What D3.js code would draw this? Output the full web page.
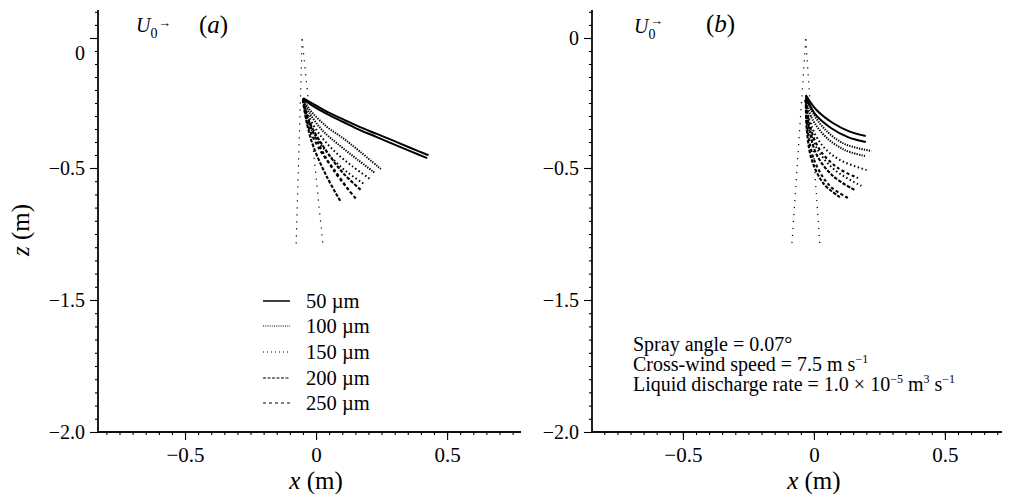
<!DOCTYPE html>
<html><head><meta charset="utf-8">
<script src="https://cdn.jsdelivr.net/npm/d3@7"></script>
<style>
html,body{margin:0;padding:0;background:#fff;}
svg{display:block;}
text{font-family:"Liberation Serif","Times New Roman","DejaVu Serif",serif !important;fill:#000;}
</style></head><body>
<svg id="c" width="1010" height="494"></svg>
<script>
// ---------- data ----------
const sizes = ["50 µm","100 µm","150 µm","200 µm","250 µm"];
const yTickValues = [0, -0.5, -1.5, -2.0];
const yTickLabels = ["0", "−0.5", "−1.5", "−2.0"];
const xTickValues = [-0.5, 0, 0.5];
const xTickLabels = ["−0.5", "0", "0.5"];

// panel (a) trajectories [x, z] in m
const a50 = [
  [[-0.048,-0.232],[-0.010,-0.254],[0.041,-0.283],[0.104,-0.313],[0.168,-0.343],[0.232,-0.369],[0.295,-0.395],[0.359,-0.422],[0.429,-0.451]],
  [[-0.050,-0.235],[-0.011,-0.262],[0.041,-0.292],[0.104,-0.323],[0.168,-0.354],[0.232,-0.381],[0.295,-0.408],[0.359,-0.435],[0.424,-0.462]]
];
const a100 = [
  [[-0.050,-0.231],[-0.023,-0.277],[0.041,-0.341],[0.104,-0.386],[0.168,-0.437],[0.247,-0.507]],
  [[-0.050,-0.235],[-0.027,-0.285],[0.023,-0.354],[0.092,-0.415],[0.160,-0.469],[0.225,-0.538]]
];
const a150 = [
  [[-0.050,-0.238],[-0.031,-0.296],[0.015,-0.373],[0.073,-0.438],[0.137,-0.492],[0.206,-0.583]],
  [[-0.050,-0.242],[-0.034,-0.308],[0.004,-0.388],[0.057,-0.458],[0.118,-0.530],[0.183,-0.621]]
];
const a200 = [
  [[-0.050,-0.238],[-0.023,-0.328],[0.041,-0.437],[0.104,-0.540],[0.174,-0.672]],
  [[-0.050,-0.238],[-0.035,-0.328],[-0.010,-0.418],[0.041,-0.566],[0.092,-0.748]]
];
const a250 = [
  [[-0.050,-0.238],[-0.035,-0.303],[0.015,-0.418],[0.066,-0.515],[0.153,-0.735]],
  [[-0.050,-0.238],[-0.031,-0.335],[0.015,-0.431],[0.073,-0.523],[0.130,-0.682]]
];
const aCone = [
  [[-0.053,-0.005],[-0.076,-1.083]],
  [[-0.053,-0.005],[0.027,-1.098]]
];

// panel (b) trajectories
const b50 = [
  [[-0.031,-0.219],[0.010,-0.277],[0.074,-0.328],[0.137,-0.360],[0.198,-0.377]],
  [[-0.031,-0.223],[0.004,-0.292],[0.065,-0.346],[0.130,-0.381],[0.198,-0.400]]
];
const b100 = [
  [[-0.031,-0.227],[0.000,-0.296],[0.053,-0.362],[0.118,-0.408],[0.220,-0.435]],
  [[-0.031,-0.231],[-0.008,-0.308],[0.046,-0.381],[0.118,-0.431],[0.195,-0.454]]
];
const b150 = [
  [[-0.031,-0.235],[-0.015,-0.323],[0.031,-0.412],[0.099,-0.469],[0.201,-0.515]],
  [[-0.031,-0.238],[-0.019,-0.335],[0.015,-0.431],[0.080,-0.515],[0.181,-0.636]]
];
const b200 = [
  [[-0.031,-0.238],[-0.019,-0.346],[0.011,-0.450],[0.073,-0.561],[0.156,-0.667]],
  [[-0.031,-0.238],[-0.027,-0.354],[-0.008,-0.469],[0.038,-0.621],[0.099,-0.720]]
];
const b250 = [
  [[-0.031,-0.238],[-0.015,-0.338],[0.023,-0.431],[0.092,-0.500],[0.168,-0.576]],
  [[-0.031,-0.238],[-0.023,-0.362],[0.004,-0.477],[0.061,-0.636],[0.130,-0.727]]
];
const bCone = [
  [[-0.031,-0.005],[-0.084,-1.076]],
  [[-0.031,-0.005],[0.023,-1.091]]
];

const annotation = ["Spray angle = 0.07°", "Cross-wind speed = 7.5 m s", "Liquid discharge rate = 1.0 × 10"];

// ---------- styles ----------
const styles = [
  {dash:null, w:2.0},
  {dash:"1.3,1.2", w:2.0},
  {dash:"1.5,2.5", w:2.0},
  {dash:"3.5,1.5", w:2.1},
  {dash:"3,2.5", w:2.1}
];
const legendDash = [null, "1,1.2", "1,3", "3,1.5", "3,3"];

const svg = d3.select("#c");

// non-uniform (as printed) vertical scale
const y = d3.scaleLinear().domain([0.107, 0, -0.5, -1.5, -2.0]).range([10, 38, 168, 300, 432]);
const yMinor = [].concat(
  d3.range(0.1, -0.5, -0.05),
  d3.range(-0.5, -1.5, -0.1),
  d3.range(-1.5, -2.0, -0.05)
).map(v => +v.toFixed(3));

function panel(opts){
  const x = d3.scaleLinear().domain(opts.xdom).range(opts.xr);
  const g = svg.append("g");
  const x0 = opts.xr[0];
  // y axis
  const ya = g.append("g").attr("transform", `translate(${x0},0)`);
  ya.call(d3.axisLeft(y).tickValues(yMinor).tickSize(3).tickFormat(""));
  ya.append("g").call(d3.axisLeft(y).tickValues(yTickValues).tickSize(8).tickPadding(5)
      .tickFormat((d,i) => yTickLabels[i]));
  ya.selectAll("path.domain").attr("d", `M0,${y.range()[0]}V${y.range()[4]}`).attr("stroke","#000").attr("stroke-width",1.3);
  ya.selectAll(".tick line").attr("stroke","#000").attr("stroke-width",1.1);
  ya.selectAll(".tick text").attr("font-size",20);
  if (opts.zeroDy) ya.selectAll(".tick text").filter(d => d === 0).attr("dy", opts.zeroDy);
  // x axis
  const xa = g.append("g").attr("transform", `translate(0,${y(-2.0)})`);
  const xMinor = d3.range(-0.8, opts.xdom[1], 0.05).map(v => +v.toFixed(3));
  xa.call(d3.axisBottom(x).tickValues(xMinor).tickSize(3).tickFormat(""));
  xa.append("g").call(d3.axisBottom(x).tickValues(xTickValues).tickSize(8).tickPadding(7)
      .tickFormat((d,i) => xTickLabels[i]));
  xa.selectAll("path.domain").attr("d", `M${opts.xr[0]},0H${opts.xr[1]}`).attr("stroke","#000").attr("stroke-width",1.3);
  xa.selectAll(".tick line").attr("stroke","#000").attr("stroke-width",1.1);
  xa.selectAll(".tick text").attr("font-size",21);
  // x label
  const xl = g.append("text").attr("x", x(0)).attr("y", 489).attr("text-anchor","middle").attr("font-size",25);
  xl.append("tspan").attr("font-style","italic").text("x");
  xl.append("tspan").text(" (m)");

  const line = d3.line().x(d => x(d[0])).y(d => y(d[1])).curve(d3.curveCatmullRom.alpha(0.5));
  // spray cone
  g.selectAll(null).data(opts.cone).join("path")
    .attr("d", line).attr("fill","none").attr("stroke","#000").attr("stroke-width",1.2)
    .attr("stroke-dasharray","1.2,5.8");
  // trajectories
  opts.series.forEach((pair, si) => {
    g.selectAll(null).data(pair).join("path")
      .attr("d", line).attr("fill","none").attr("stroke","#000")
      .attr("stroke-width", styles[si].w)
      .attr("stroke-dasharray", styles[si].dash);
  });
  return {g, x};
}

panel({xdom:[-0.832, 0.782], xr:[98, 521], cone:aCone, series:[a50,a100,a150,a200,a250], zeroDy:"1.05em"});
panel({xdom:[-0.847, 0.718], xr:[592, 1002], cone:bCone, series:[b50,b100,b150,b200,b250]});

// z label
svg.append("text").attr("transform","translate(29,230) rotate(-90)").attr("text-anchor","middle").attr("font-size",25)
  .call(t => { t.append("tspan").attr("font-style","italic").text("z"); t.append("tspan").text(" (m)"); });

// U0 arrows and panel letters
function uLabel(xp, yp, arrowOverZero){
  const t = svg.append("text").attr("x", xp).attr("y", yp).attr("font-size",20);
  t.append("tspan").attr("font-style","italic").text("U");
  t.append("tspan").attr("font-size",14).attr("dy",6).text("0");
  svg.append("text").attr("x", arrowOverZero ? xp+16 : xp+22).attr("y", arrowOverZero ? yp-8 : yp-5).attr("font-size",13).text("→");
}
uLabel(136, 32, false);
uLabel(634, 33, true);
function letter(xp, yp, s){
  const t = svg.append("text").attr("x", xp).attr("y", yp).attr("font-size",25);
  t.append("tspan").text("(");
  t.append("tspan").attr("font-style","italic").text(s);
  t.append("tspan").text(")");
}
letter(199, 33, "a");
letter(706, 32, "b");

// legend
const lg = svg.append("g");
const rowsY = [301, 326, 352, 378, 403];
sizes.forEach((s, i) => {
  lg.append("line").attr("x1",263).attr("x2",290).attr("y1",rowsY[i]).attr("y2",rowsY[i])
    .attr("stroke","#000").attr("stroke-width", i === 0 ? 1.5 : 1.1)
    .attr("stroke-dasharray", legendDash[i]);
  lg.append("text").attr("x",306).attr("y",rowsY[i]+7).attr("font-size",20.5).text(s);
});

// annotation (panel b)
const an = svg.append("g").attr("font-size",20);
const ay = [351, 371, 391];
an.append("text").attr("x",633).attr("y",ay[0]).text(annotation[0]);
const t2 = an.append("text").attr("x",633).attr("y",ay[1]);
t2.append("tspan").text(annotation[1]);
t2.append("tspan").attr("font-size",12).attr("dy",-8).text("−1");
const t3 = an.append("text").attr("x",633).attr("y",ay[2]);
t3.append("tspan").text(annotation[2]);
t3.append("tspan").attr("font-size",12).attr("dy",-8).text("−5");
t3.append("tspan").attr("dy",8).text(" m");
t3.append("tspan").attr("font-size",12).attr("dy",-8).text("3");
t3.append("tspan").attr("dy",8).text(" s");
t3.append("tspan").attr("font-size",12).attr("dy",-8).text("−1");
</script>
</body></html>
